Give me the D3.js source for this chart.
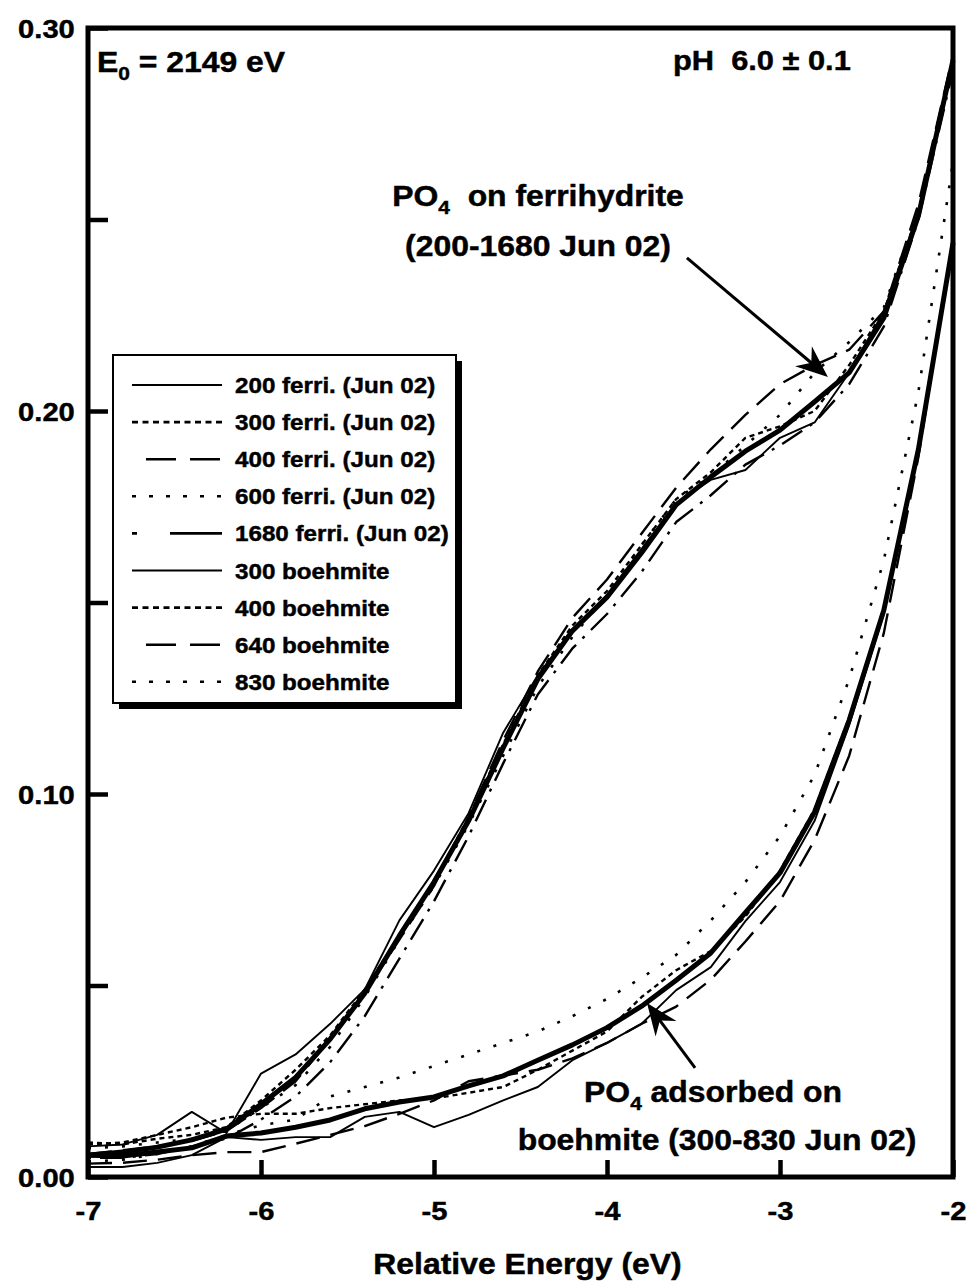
<!DOCTYPE html>
<html><head><meta charset="utf-8">
<script src="https://cdn.jsdelivr.net/npm/d3@7"></script>
<style>
body{margin:0;background:#fff}
svg{display:block}
text{font-family:"Liberation Sans",Arial,Helvetica,sans-serif;font-weight:bold;fill:#000;stroke:#000;stroke-width:0.45px}
</style>
</head><body>
<svg id="c" width="969" height="1284"></svg>
<script>
// ---------------- data ----------------
const energy = [-7.0,-6.8,-6.6,-6.4,-6.2,-6.0,-5.8,-5.6,-5.4,-5.2,-5.0,-4.8,-4.6,-4.4,-4.2,-4.0,-3.8,-3.6,-3.4,-3.2,-3.0,-2.8,-2.6,-2.4,-2.2,-2.0];

const ferriThick = [0.0057,0.0065,0.0078,0.0097,0.0125,0.019,0.026,0.036,0.048,0.063,0.077,0.093,0.112,0.130,0.1426,0.1514,0.163,0.1755,0.1828,0.1895,0.195,0.2024,0.210,0.2243,0.251,0.2916];
const ferri200 = [0.008,0.0085,0.011,0.017,0.0115,0.027,0.032,0.040,0.049,0.067,0.080,0.095,0.116,0.131,0.143,0.152,0.164,0.176,0.182,0.1846,0.193,0.197,0.210,0.226,0.252,0.290];
const ferri300 = [0.009,0.0085,0.010,0.011,0.013,0.020,0.028,0.037,0.049,0.063,0.077,0.094,0.113,0.131,0.144,0.153,0.165,0.177,0.184,0.193,0.196,0.200,0.212,0.226,0.252,0.291];
const ferri400 = [0.006,0.007,0.008,0.0095,0.012,0.018,0.025,0.036,0.048,0.062,0.076,0.094,0.114,0.132,0.146,0.156,0.168,0.180,0.190,0.199,0.207,0.212,0.216,0.226,0.254,0.293];
const ferri600 = [0.0075,0.008,0.009,0.010,0.012,0.018,0.024,0.034,0.047,0.062,0.076,0.092,0.110,0.128,0.141,0.152,0.165,0.177,0.183,0.191,0.199,0.210,0.218,0.227,0.253,0.291];
const ferri1680 = [0.005,0.005,0.006,0.008,0.010,0.015,0.021,0.030,0.042,0.057,0.072,0.089,0.108,0.126,0.138,0.147,0.158,0.171,0.178,0.186,0.191,0.197,0.207,0.222,0.250,0.289];

const boehThick = [0.0057,0.0055,0.0065,0.0076,0.0107,0.0115,0.013,0.0149,0.0178,0.0196,0.0209,0.0238,0.0264,0.0305,0.0345,0.039,0.0446,0.0514,0.0585,0.069,0.0794,0.0953,0.1193,0.148,0.190,0.2439];
const boeh300 = [0.0026,0.0026,0.0037,0.0057,0.0104,0.0097,0.0104,0.0104,0.0157,0.017,0.013,0.0162,0.020,0.0235,0.0305,0.035,0.040,0.0488,0.0548,0.0668,0.077,0.093,0.118,0.147,0.189,0.243];
const boeh400 = [0.0085,0.009,0.011,0.013,0.0155,0.0165,0.0165,0.018,0.019,0.020,0.0205,0.022,0.0235,0.028,0.033,0.038,0.047,0.054,0.059,0.068,0.080,0.096,0.120,0.148,0.190,0.244];
const boeh640 = [0.0035,0.0037,0.0045,0.0057,0.0065,0.0065,0.0087,0.011,0.0133,0.0165,0.020,0.025,0.0265,0.028,0.031,0.035,0.040,0.0445,0.0515,0.0615,0.072,0.088,0.110,0.142,0.188,0.245];
const boeh830 = [0.004,0.0045,0.006,0.008,0.011,0.0135,0.015,0.021,0.0235,0.026,0.029,0.032,0.035,0.038,0.042,0.0465,0.052,0.058,0.067,0.077,0.089,0.105,0.130,0.161,0.205,0.265];

const legendLabels = ["200 ferri. (Jun 02)","300 ferri. (Jun 02)","400 ferri. (Jun 02)","600 ferri. (Jun 02)","1680 ferri. (Jun 02)","300 boehmite","400 boehmite","640 boehmite","830 boehmite"];
const xTicks = [-7,-6,-5,-4,-3,-2];
const xTickLabels = ["-7","-6","-5","-4","-3","-2"];
const yTicks = [0,0.05,0.10,0.15,0.20,0.25,0.30];
const yTickLabels = ["0.00","","0.10","","0.20","","0.30"];
const xTitle = "Relative Energy (eV)";

// ---------------- styles ----------------
const STY = {
  solid:  {w:1.9, dash:null,        legDash:null,            legOff:0},
  fine:   {w:2.4, dash:"5,4",       legDash:"6,4.5",         legOff:0},
  long:   {w:2.4, dash:"24,11",     legDash:"30,14",         legOff:30},
  sparse: {w:2.6, dash:"3,14",      legDash:"4,13",          legOff:0},
  dashdot:{w:2.4, dash:"3,9,24,9",  legDash:"5,33,55,20",    legOff:0},
  thick:  {w:5,   dash:null}
};

const series = [
  {v:ferri200, s:"solid"}, {v:ferri300, s:"fine"}, {v:ferri400, s:"long"},
  {v:ferri600, s:"sparse"}, {v:ferri1680, s:"dashdot"},
  {v:boeh300, s:"solid"}, {v:boeh400, s:"fine"}, {v:boeh640, s:"long"}, {v:boeh830, s:"sparse"},
  {v:ferriThick, s:"thick"}, {v:boehThick, s:"thick"}
];
const legendStyles = ["solid","fine","long","sparse","dashdot","solid","fine","long","sparse"];

// ---------------- chart ----------------
const svg = d3.select("#c");
const L=88, R=953, T=28, B=1177;
const x = d3.scaleLinear().domain([-7,-2]).range([L,R]);
const y = d3.scaleLinear().domain([0,0.30]).range([B,T]);
const SX = 1.1;

const line = d3.line().x((d,i)=>x(energy[i])).y(d=>y(d));

svg.append("g").selectAll("path").data(series).join("path")
  .attr("d", d=>line(d.v))
  .attr("fill","none").attr("stroke","#000")
  .attr("stroke-width", d=>STY[d.s].w)
  .attr("stroke-dasharray", d=>STY[d.s].dash)
  .attr("stroke-linejoin","round");

// axes
const gx = svg.append("g").attr("transform",`translate(0,${B})`)
  .call(d3.axisBottom(x).tickValues(xTicks).tickSizeInner(-17).tickSizeOuter(0).tickPadding(24)
        .tickFormat((d,i)=>xTickLabels[i]));
gx.select(".domain").remove();
gx.selectAll("line").attr("stroke","#000").attr("stroke-width",4.5);
gx.selectAll("text").attr("font-size",26.5).attr("fill","#000").attr("transform",`scale(${SX},1)`)
  .style("font-family",'"Liberation Sans",Arial,sans-serif').style("font-weight","bold");

const gy = svg.append("g").attr("transform",`translate(${L},0)`)
  .call(d3.axisLeft(y).tickValues(yTicks).tickSizeInner(-20).tickSizeOuter(0).tickPadding(12)
        .tickFormat((d,i)=>yTickLabels[i]));
gy.select(".domain").remove();
gy.selectAll("line").attr("stroke","#000").attr("stroke-width",4.5);
gy.selectAll("text").attr("font-size",26.5).attr("fill","#000").attr("dy","0.36em")
  .attr("transform",`scale(${SX},1)`)
  .style("font-family",'"Liberation Sans",Arial,sans-serif').style("font-weight","bold");

// axis title
svg.append("text").attr("transform",`translate(${(L+R)/2 + 7},1274) scale(${SX},1)`)
  .attr("text-anchor","middle").attr("font-size",29).text(xTitle);

// frame
svg.append("rect").attr("x",L).attr("y",T).attr("width",R-L).attr("height",B-T)
  .attr("fill","none").attr("stroke","#000").attr("stroke-width",5);

// legend
const lg = svg.append("g");
const LX=113, LY=355, LW=343, LH=348;
lg.append("rect").attr("x",LX+6).attr("y",LY+6).attr("width",LW).attr("height",LH).attr("fill","#000");
lg.append("rect").attr("x",LX).attr("y",LY).attr("width",LW).attr("height",LH)
  .attr("fill","#fff").attr("stroke","#000").attr("stroke-width",2);
const rows = lg.selectAll("g.row").data(legendLabels).join("g").attr("class","row")
  .attr("transform",(d,i)=>`translate(0,${385+37.1*i})`);
rows.append("line").attr("x1",132).attr("x2",222).attr("y1",0).attr("y2",0)
  .attr("stroke","#000")
  .attr("stroke-width",(d,i)=>legendStyles[i]==="solid"?2:2.6)
  .attr("stroke-dasharray",(d,i)=>STY[legendStyles[i]].legDash)
  .attr("stroke-dashoffset",(d,i)=>STY[legendStyles[i]].legOff);
rows.append("text").attr("transform",`translate(235,8) scale(${SX},1)`)
  .attr("font-size",22).text(d=>d);

// annotations
function ann(cx, by, anchor, size, parts){
  const t = svg.append("text").attr("transform",`translate(${cx},${by}) scale(${SX},1)`)
    .attr("text-anchor",anchor).attr("font-size",size);
  parts.forEach(p=>{
    const ts = t.append("tspan").text(p.t);
    if(p.sub){ ts.attr("font-size",19).attr("dy",8); }
    if(p.back){ ts.attr("dy",-8); }
  });
}
ann(97,72,"start",29,[{t:"E"},{t:"0",sub:true},{t:" = 2149 eV",back:true}]);
ann(673,70,"start",28,[{t:"pH\u00a0\u00a06.0 \u00b1 0.1"}]);
ann(538,206,"middle",29,[{t:"PO"},{t:"4",sub:true},{t:"\u00a0\u00a0on ferrihydrite",back:true}]);
ann(538,256,"middle",29,[{t:"(200-1680 Jun 02)"}]);
ann(713,1102,"middle",29,[{t:"PO"},{t:"4",sub:true},{t:" adsorbed on",back:true}]);
ann(717,1150,"middle",29,[{t:"boehmite (300-830 Jun 02)"}]);

// arrows (defined in data coordinates)
function arrow(e0,v0,e1,v1){
  const x0=x(e0), y0=y(v0), x1=x(e1), y1=y(v1);
  const dx=x1-x0, dy=y1-y0, len=Math.hypot(dx,dy), ux=dx/len, uy=dy/len, nx=-uy, ny=ux;
  const Lh=32, W=13;
  svg.append("line").attr("x1",x0).attr("y1",y0).attr("x2",x1-ux*20).attr("y2",y1-uy*20)
    .attr("stroke","#000").attr("stroke-width",3);
  const pts=[[x1,y1],[x1-ux*Lh+nx*W,y1-uy*Lh+ny*W],[x1-ux*Lh*0.68,y1-uy*Lh*0.68],[x1-ux*Lh-nx*W,y1-uy*Lh-ny*W]];
  svg.append("polygon").attr("points",pts.map(p=>p.join(",")).join(" ")).attr("fill","#000");
}
arrow(-3.538, 0.240, -2.723, 0.2089);
arrow(-3.491, 0.0285, -3.769, 0.0454);
</script>
</body></html>
